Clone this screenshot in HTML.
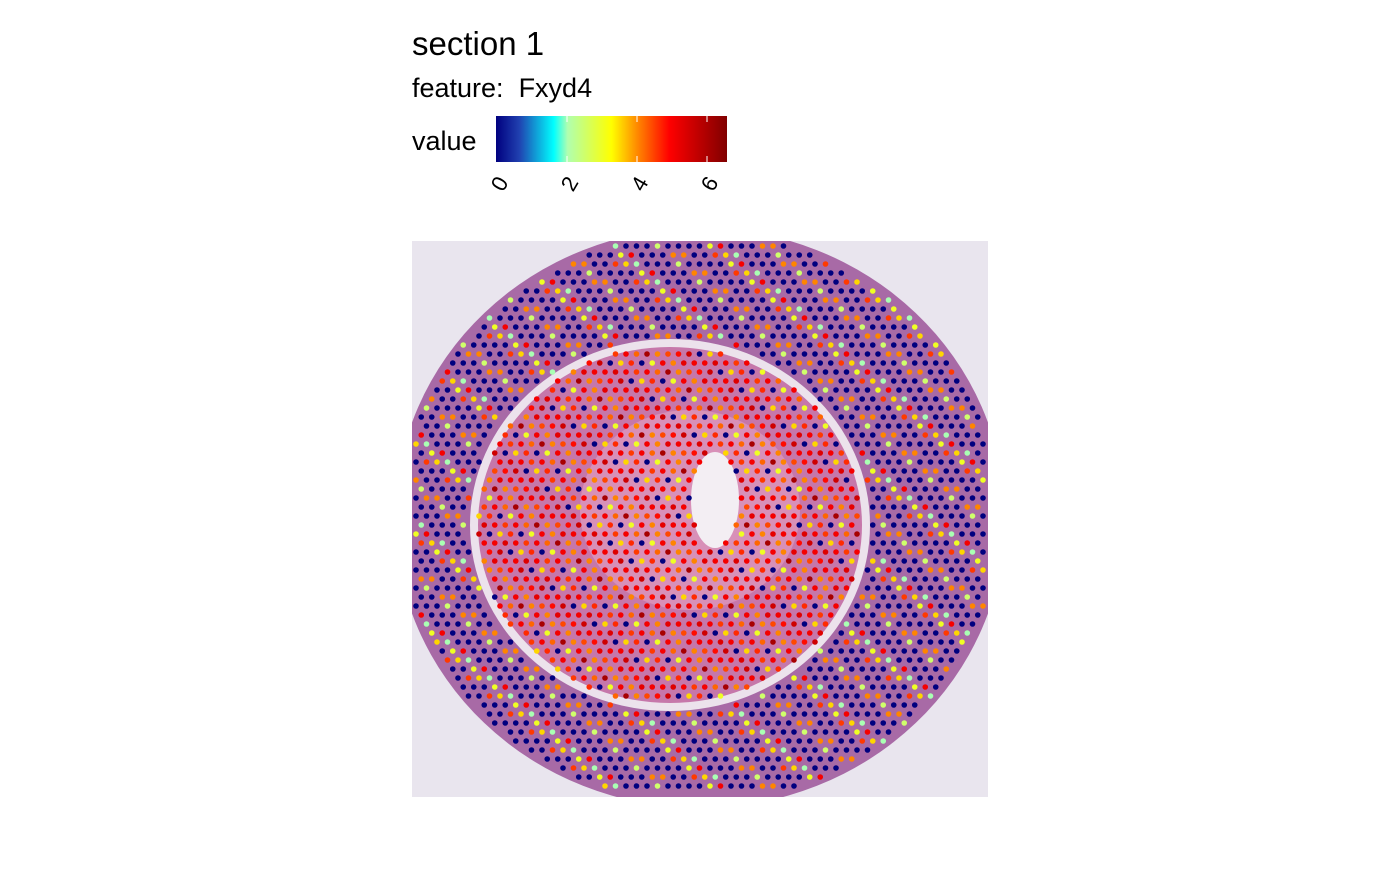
<!DOCTYPE html>
<html><head><meta charset="utf-8"><style>
body{margin:0;background:#fff;font-family:"Liberation Sans",sans-serif}
</style></head><body>
<svg width="1400" height="865" xmlns="http://www.w3.org/2000/svg">
<defs>
<linearGradient id="jet" x1="0" x2="1">
<stop offset="0" stop-color="#00007f"/><stop offset="0.1" stop-color="#2040b0"/>
<stop offset="0.25" stop-color="#00ffff"/><stop offset="0.31" stop-color="#b0ffb0"/>
<stop offset="0.5" stop-color="#ffff00"/><stop offset="0.62" stop-color="#ff8000"/>
<stop offset="0.75" stop-color="#ff0000"/><stop offset="1" stop-color="#800000"/>
</linearGradient>
<clipPath id="img"><rect x="412" y="241" width="576" height="556"/></clipPath>
</defs>
<text x="412" y="55" font-size="33">section 1</text>
<text x="412" y="97" font-size="27" xml:space="preserve">feature:  Fxyd4</text>
<text x="412" y="150" font-size="27">value</text>
<rect x="496" y="116" width="231" height="46" fill="url(#jet)"/>
<g stroke="#fff" stroke-width="1">
<line x1="567" y1="116" x2="567" y2="122"/><line x1="567" y1="156" x2="567" y2="162"/>
<line x1="637" y1="116" x2="637" y2="122"/><line x1="637" y1="156" x2="637" y2="162"/>
<line x1="707" y1="116" x2="707" y2="122"/><line x1="707" y1="156" x2="707" y2="162"/>
</g>
<g font-size="22">
<text transform="translate(500,184) rotate(-60)" text-anchor="middle" dy="7">0</text>
<text transform="translate(570,184) rotate(-60)" text-anchor="middle" dy="7">2</text>
<text transform="translate(640,184) rotate(-60)" text-anchor="middle" dy="7">4</text>
<text transform="translate(710,184) rotate(-60)" text-anchor="middle" dy="7">6</text>
</g>
<g clip-path="url(#img)">
<rect x="412" y="241" width="576" height="556" fill="#e9e5ee"/>
<ellipse cx="700" cy="518" rx="305" ry="290" fill="#a86aa6"/>
<ellipse cx="670" cy="525" rx="200" ry="186" fill="#ece2ec"/>
<ellipse cx="670" cy="525" rx="192" ry="178" fill="#c677aa"/>
<ellipse cx="690" cy="510" rx="110" ry="100" fill="#d890b8"/>
<ellipse cx="715" cy="500" rx="24" ry="48" fill="#f3eef3"/>
</g>
<g id="spots"></g>
</svg>
<script>
const outerValues=[0,0,4,0,3,0,0,5,0,2.5,0,4.5,0,0,3.5,0,0,2,0,4];
const innerValues=[5,4.5,5.5,4,5,0,5.2,4.2,3.5,5,6,4.6,5,4,0,5.3,4.4,3,5,4.8];
const stops=[[0,[0,0,127]],[0.1,[32,64,176]],[0.25,[0,255,255]],[0.31,[176,255,176]],[0.5,[255,255,0]],[0.62,[255,128,0]],[0.75,[255,0,0]],[1,[128,0,0]]];
function col(v){let t=Math.max(0,Math.min(1,v/6.5));for(let i=1;i<stops.length;i++){if(t<=stops[i][0]){const a=stops[i-1],b=stops[i],f=(t-a[0])/(b[0]-a[0]);return 'rgb('+a[1].map((c,j)=>Math.round(c+(b[1][j]-c)*f)).join(',')+')';}}return 'rgb(128,0,0)';}
const g=document.getElementById('spots');
let r=0;
for(let y=246;y<795;y+=9,r++){let c=0;for(let x=416+(r%2)*5.25;x<986;x+=10.5,c++){
 const d=Math.hypot((x-700)/305,(y-518)/290);if(d>0.98)continue;
 const di=Math.hypot((x-670)/200,(y-525)/186);
 if(di>0.96&&di<1.01)continue;
 if(Math.hypot((x-715)/24,(y-500)/48)<1)continue;
 const k=(r*7+c*3)%20;
 const v=di<0.96?innerValues[k]:outerValues[k];
 const e=document.createElementNS('http://www.w3.org/2000/svg','circle');
 
 
 e.setAttribute('cx',x);e.setAttribute('cy',y);e.setAttribute('r',2.8);e.setAttribute('fill',col(v));
 g.appendChild(e);}}
</script>
</body></html>
